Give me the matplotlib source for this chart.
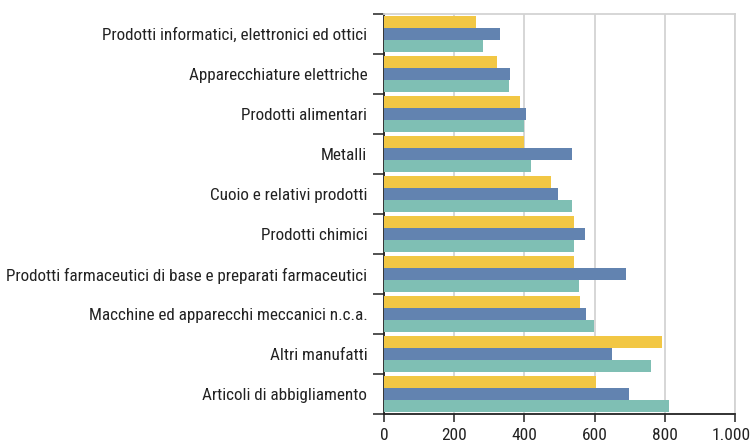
import numpy as np
import matplotlib
matplotlib.use("Agg")
import matplotlib.pyplot as plt
import matplotlib.transforms as mtransforms
from matplotlib.ticker import FuncFormatter

# ── data (top → bottom) ────────────────────────────────────────
categories = [
    "Prodotti informatici, elettronici ed ottici",
    "Apparecchiature elettriche",
    "Prodotti alimentari",
    "Metalli",
    "Cuoio e relativi prodotti",
    "Prodotti chimici",
    "Prodotti farmaceutici di base e preparati farmaceutici",
    "Macchine ed apparecchi meccanici n.c.a.",
    "Altri manufatti",
    "Articoli di abbigliamento",
]
serie_gialla = [262, 323, 387, 400, 477, 542, 541, 557, 791, 604]
serie_blu    = [331, 360, 405, 535, 497, 574, 689, 576, 651, 699]
serie_verde  = [281, 355, 399, 420, 537, 542, 556, 599, 761, 811]
x_ticks = [0, 200, 400, 600, 800, 1000]

GIALLO = "#F2C744"
BLU    = "#6283B0"
VERDE  = "#7FBFB4"
TESTO  = "#222222"

plt.rcParams["font.family"] = ["Liberation Sans Narrow", "Roboto Condensed", "DejaVu Sans"]
plt.rcParams["font.stretch"] = "condensed"

fig = plt.figure(figsize=(7.51, 4.48), dpi=100)
ax = fig.add_axes([0.5113, 0.0752, 0.4674, 0.8936])

n = len(categories)
y = np.arange(n)          # 0 at top after inverting
h = 0.29
off = 0.30
ax.barh(y - off, serie_gialla, height=h, color=GIALLO, zorder=3)
ax.barh(y,       serie_blu,    height=h, color=BLU,    zorder=3)
ax.barh(y + off, serie_verde,  height=h, color=VERDE,  zorder=3)

ax.set_ylim(n - 0.5, -0.5)
ax.set_xlim(0, 1000)

# category labels at centres, ticks at boundaries
ax.set_yticks(np.arange(-0.5, n, 1.0))
ax.set_yticklabels([])
ax.set_yticks(y, minor=True)
ax.set_yticklabels(categories, minor=True, fontsize=12.3, color=TESTO)
ax.tick_params(axis="y", which="minor", length=0, pad=12)
ax.tick_params(axis="y", which="major", length=8, width=1.2, color="#333333")

ax.set_xticks(x_ticks)
ax.xaxis.set_major_formatter(FuncFormatter(lambda v, p: f"{int(v):,}".replace(",", ".")))
ax.tick_params(axis="x", length=6, width=1.2, color="#333333",
               labelsize=12.5, labelcolor=TESTO, pad=4)

# nudge "1.000" so it stays inside the canvas
fig.canvas.draw()
last = ax.get_xticklabels()[-1]
last.set_transform(last.get_transform() +
                   mtransforms.ScaledTranslation(-4 / 100, 0, fig.dpi_scale_trans))

ax.grid(axis="x", color="#d3d3d3", linewidth=1.3, zorder=0)
for s in ["top", "right"]:
    ax.spines[s].set_color("#d3d3d3")
    ax.spines[s].set_linewidth(1.3)
ax.spines["left"].set_color("#222222")
ax.spines["left"].set_linewidth(1.3)
ax.spines["bottom"].set_color("#222222")
ax.spines["bottom"].set_linewidth(1.3)

fig.savefig("out.png", dpi=100)
